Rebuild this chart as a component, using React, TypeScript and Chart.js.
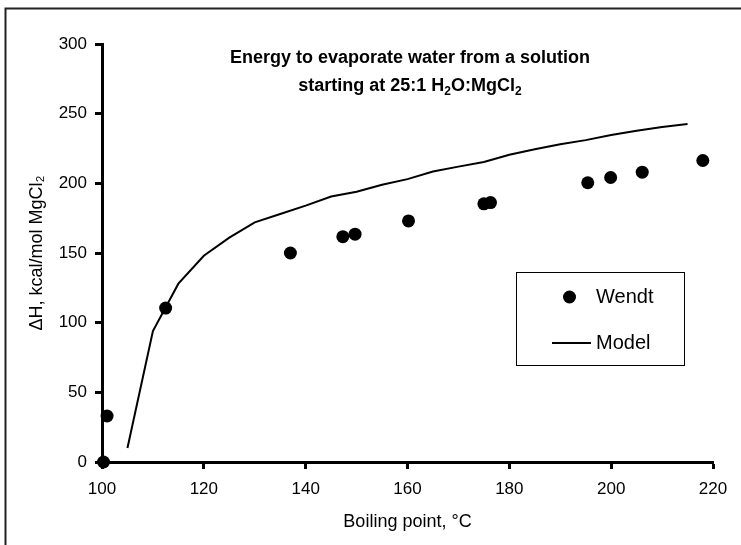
import React, { useEffect, useRef } from "react";
import { Chart, registerables } from "chart.js";

Chart.register(...registerables);

// ---- data ----
const wendtX = [100.3, 101, 112.5, 137, 147.3, 149.7, 160.2, 175, 176.3, 195.4, 199.9, 206.1, 218];
const wendtY = [0, 33, 110.5, 150, 161.7, 163.5, 173, 185.3, 186.2, 200.4, 204.2, 208, 216.4];

const modelX = [105, 110, 115, 120, 125, 130, 135, 140, 145, 150, 155, 160, 165, 170, 175, 180, 185, 190, 195, 200, 205, 210, 215];
const modelY = [10, 94, 128, 148, 161, 172, 178, 184, 190.5, 194, 199, 203, 208.5, 212, 215.3, 220.5, 224.5, 228, 231, 234.7, 237.8, 240.5, 242.5];

const xTicks = [100, 120, 140, 160, 180, 200, 220];
const yTicks = [0, 50, 100, 150, 200, 250, 300];

const seriesNames = ["Wendt", "Model"];
const titleLine1 = "Energy to evaporate water from a solution";
const titleLine2: [string, boolean][] = [
  ["starting at 25:1 H", false],
  ["2", true],
  ["O:MgCl", false],
  ["2", true],
];
const xTitle = "Boiling point, \u00B0C";
const yTitle = "\u0394H, kcal/mol MgCl\u2082";

const FONT = "'Liberation Sans', Arial, Helvetica, sans-serif";

const decorPlugin = {
  id: "decor",
  afterDraw(chart: any) {
    const ctx = chart.ctx as CanvasRenderingContext2D;
    ctx.save();
    // outer frame
    ctx.strokeStyle = "#222";
    ctx.lineWidth = 2;
    ctx.strokeRect(5.5, 8.5, 800, 600);

    // title
    ctx.fillStyle = "#000";
    ctx.textBaseline = "alphabetic";
    ctx.textAlign = "left";
    const cx = 410;
    ctx.font = `bold 18px ${FONT}`;
    const w1 = ctx.measureText(titleLine1).width;
    ctx.fillText(titleLine1, cx - w1 / 2, 63);
    let total = 0;
    for (const [t, sub] of titleLine2) {
      ctx.font = sub ? `bold 12px ${FONT}` : `bold 18px ${FONT}`;
      total += ctx.measureText(t).width;
    }
    let x = cx - total / 2;
    for (const [t, sub] of titleLine2) {
      ctx.font = sub ? `bold 12px ${FONT}` : `bold 18px ${FONT}`;
      ctx.fillText(t, x, sub ? 95 : 91);
      x += ctx.measureText(t).width;
    }

    // legend
    const ds = chart.data.datasets;
    ctx.fillStyle = "#fff";
    ctx.fillRect(516.5, 272.5, 168, 93);
    ctx.strokeStyle = "#000";
    ctx.lineWidth = 1;
    ctx.strokeRect(516.5, 272.5, 168, 93);
    ctx.font = `20px ${FONT}`;
    ctx.textBaseline = "middle";
    // Wendt
    ctx.fillStyle = ds[0].backgroundColor;
    ctx.beginPath();
    ctx.arc(569.5, 297, 6.5, 0, Math.PI * 2);
    ctx.fill();
    ctx.fillStyle = "#000";
    ctx.fillText(ds[0].label, 596, 297);
    // Model
    ctx.strokeStyle = ds[1].borderColor;
    ctx.lineWidth = ds[1].borderWidth;
    ctx.beginPath();
    ctx.moveTo(552, 343);
    ctx.lineTo(591, 343);
    ctx.stroke();
    ctx.fillText(ds[1].label, 596, 343);
    ctx.restore();
  },
};

export default function App() {
  const ref = useRef<HTMLCanvasElement>(null);
  useEffect(() => {
    document.body.style.margin = "0";
    const chart = new Chart(ref.current as HTMLCanvasElement, {
      type: "scatter",
      data: {
        datasets: [
          {
            label: seriesNames[0],
            data: wendtX.map((v, i) => ({ x: v, y: wendtY[i] })),
            showLine: false,
            pointRadius: 6.5,
            pointBorderWidth: 0,
            backgroundColor: "#000",
            borderColor: "#000",
            clip: false,
          },
          {
            label: seriesNames[1],
            data: modelX.map((v, i) => ({ x: v, y: modelY[i] })),
            showLine: true,
            pointRadius: 0,
            borderColor: "#000",
            backgroundColor: "#000",
            borderWidth: 2,
            tension: 0,
            clip: false,
          },
        ],
      } as any,
      options: {
        responsive: false,
        animation: false,
        layout: { padding: { top: 44, right: 28, left: 0, bottom: 0 } },
        plugins: { legend: { display: false }, tooltip: { enabled: false }, title: { display: false } },
        scales: {
          x: {
            type: "linear",
            min: 100,
            max: 220,
            afterBuildTicks: (s: any) => {
              s.ticks = xTicks.map((v) => ({ value: v }));
            },
            ticks: { color: "#000", font: { family: FONT, size: 17 }, padding: 10 },
            grid: {
              display: true,
              drawOnChartArea: false,
              drawTicks: true,
              tickLength: 7,
              tickWidth: 3,
              tickColor: "#000",
              color: "#000",
            },
            border: { display: true, color: "#000", width: 3 },
            title: {
              display: true,
              text: xTitle,
              color: "#000",
              font: { family: FONT, size: 18 },
              padding: { top: 0, bottom: 12 },
            },
            afterFit: (s: any) => {
              s.height = 83;
            },
          },
          y: {
            type: "linear",
            min: 0,
            max: 300,
            afterBuildTicks: (s: any) => {
              s.ticks = yTicks.map((v) => ({ value: v }));
            },
            ticks: { color: "#000", font: { family: FONT, size: 17 }, padding: 8 },
            grid: {
              display: true,
              drawOnChartArea: false,
              drawTicks: true,
              tickLength: 7,
              tickWidth: 3,
              tickColor: "#000",
              color: "#000",
            },
            border: { display: true, color: "#000", width: 3 },
            title: {
              display: true,
              text: yTitle,
              color: "#000",
              font: { family: FONT, size: 18 },
              padding: { top: 26, bottom: 0 },
            },
            afterFit: (s: any) => {
              s.width = 102;
            },
          },
        },
      } as any,
      plugins: [decorPlugin],
    });
    return () => chart.destroy();
  }, []);
  return (
    <div style={{ position: "fixed", left: 0, top: 0, width: 741, height: 545, background: "#fff" }}>
      <canvas ref={ref} width={741} height={545} style={{ display: "block" }} />
    </div>
  );
}
